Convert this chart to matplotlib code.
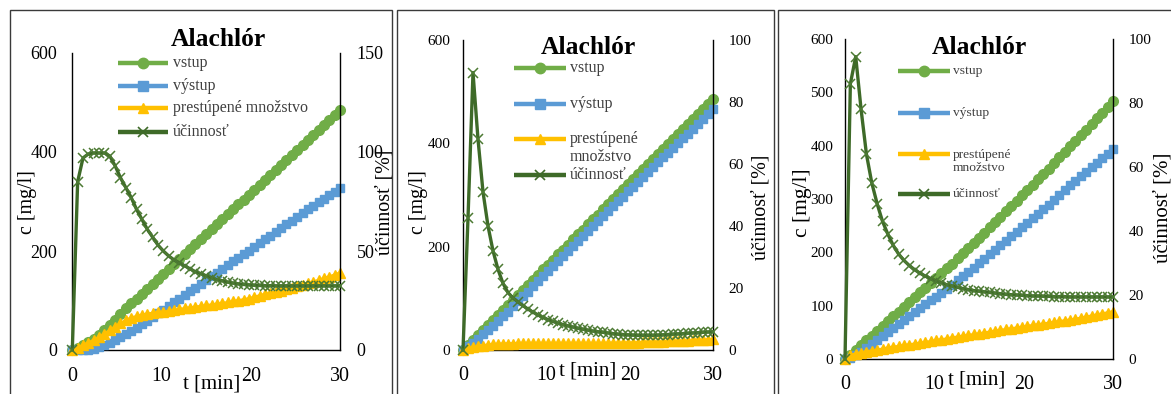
import matplotlib
matplotlib.use("Agg")
import matplotlib.pyplot as plt
from matplotlib.lines import Line2D
from matplotlib.patches import Rectangle
from matplotlib.transforms import Bbox, TransformedBbox

plt.rcParams['font.family'] = ['Liberation Serif', 'DejaVu Serif']

# time axis [min]
t = [0, 0.6, 1.2, 1.8, 2.4, 3.0, 3.6, 4.2, 4.8, 5.4, 6.0, 6.6, 7.2, 7.8, 8.4, 9.0, 9.6,
     10.2, 10.8, 11.4, 12.0, 12.6, 13.2, 13.8, 14.4, 15.0, 15.6, 16.2, 16.8, 17.4, 18.0,
     18.6, 19.2, 19.8, 20.4, 21.0, 21.6, 22.2, 22.8, 23.4, 24.0, 24.6, 25.2, 25.8, 26.4,
     27.0, 27.6, 28.2, 28.8, 29.4, 30.0]

labels = ['vstup', 'výstup', 'prestúpené množstvo', 'účinnosť']
title = 'Alachlór'

# panel 1
vstup_1 = [0, 5, 10, 16, 22, 30, 40, 50, 61, 72, 84, 94, 104, 114, 124, 134, 144, 154, 164,
           174, 184, 194, 204, 214, 224, 234, 244, 254, 264, 274, 284, 294, 304, 314, 324,
           334, 344, 354, 364, 374, 384, 394, 404, 414, 424, 434, 444, 454, 464, 474, 484]
vystup_1 = [0, 0, 0, 1, 3, 6, 10, 15, 20, 26, 32, 38, 45, 52, 59, 66, 74, 81, 89, 96, 104,
            111, 119, 126, 134, 141, 149, 156, 164, 171, 179, 186, 194, 201, 209, 216, 224,
            231, 239, 246, 254, 261, 269, 276, 284, 291, 299, 306, 313, 320, 327]
prest_1 = [0, 5, 10, 15, 20, 26, 33, 40, 47, 54, 60, 65, 68, 71, 73, 74.5, 76, 77, 78.5, 80,
           82, 84, 85.5, 87, 88.5, 90, 91.5, 93, 94.5, 96, 98, 100, 102, 104, 107, 110, 113,
           115, 118, 120, 123, 125.5, 129, 132, 135, 138, 141, 145, 148, 152, 156]
ucin_1 = [0, 85, 97, 99, 99.5, 99.5, 99.5, 98, 93, 87, 82, 77, 71, 66, 61, 57, 53, 50, 47.5,
          45.5, 44, 42.5, 41, 39.5, 38.5, 37.5, 36.5, 35.5, 35, 34.3, 33.8, 33.4, 33.1, 32.9,
          32.7, 32.6, 32.5, 32.5, 32.4, 32.4, 32.4, 32.4, 32.4, 32.4, 32.4, 32.4, 32.4, 32.4,
          32.4, 32.4, 32.5]

# panel 2
vstup_2 = [0, 10, 19, 29, 39, 49, 58, 68, 78, 87, 97, 107, 117, 126, 136, 146, 156, 165, 175,
           185, 194, 204, 214, 224, 233, 243, 253, 262, 272, 282, 292, 301, 311, 321, 330, 340,
           350, 360, 369, 379, 389, 398, 408, 418, 428, 437, 447, 457, 466, 476, 486]
vystup_2 = [0, 7, 14, 22, 30.5, 39, 47, 56.5, 66, 74.5, 84.5, 94, 104, 113, 123, 133, 143, 152,
            162, 172, 181, 191, 201, 211, 220, 230, 240, 249, 259, 268.5, 278.5, 287.5, 297,
            307, 316, 325.5, 335, 345, 353.5, 363.5, 373, 381.5, 391, 401, 410.5, 419, 428.5,
            438, 446.5, 456, 465.5]
prest_2 = [0, 3, 5, 7, 8.5, 10, 11, 11.5, 12, 12.5, 12.5, 13, 13, 13, 13, 13, 13, 13, 13, 13,
           13, 13, 13, 13, 13, 13, 13, 13, 13, 13.5, 13.5, 13.5, 14, 14, 14, 14.5, 15, 15, 15.5,
           15.5, 16, 16.5, 17, 17, 17.5, 18, 18.5, 19, 19.5, 20, 20.5]
ucin_2 = [0, 42.5, 89.5, 68, 51, 40, 32, 26, 21.5, 18.5, 16.8, 15.5, 14.3, 13.2, 12.2, 11.3,
          10.5, 9.8, 9.2, 8.7, 8.2, 7.8, 7.4, 7.0, 6.7, 6.4, 6.1, 5.9, 5.7, 5.5, 5.3, 5.1, 5.0,
          4.9, 4.8, 4.7, 4.7, 4.7, 4.7, 4.8, 4.9, 5.0, 5.1, 5.2, 5.3, 5.4, 5.5, 5.6, 5.7, 5.8, 5.9]

# panel 3
vstup_3 = [0, 8, 17, 26, 35, 44, 53, 62, 71, 80, 89, 98, 107, 116, 125, 134, 143, 152, 161, 170,
           179, 189, 198, 208, 217, 227, 237, 247, 257, 267, 277, 287, 297, 307, 317, 327, 337,
           347, 357, 368, 378, 388, 399, 409, 420, 430, 441, 451, 462, 472, 483]
vystup_3 = [0, 1, 7, 14, 21, 28.5, 36, 43, 50, 57.5, 65, 72.5, 80, 87.5, 95, 102.5, 110, 117,
            124.5, 132, 139, 147.5, 155, 163.5, 171, 179.5, 188, 196, 204.5, 213, 221.5, 230,
            238.5, 247, 255.5, 264, 272.5, 281, 289.5, 299, 307.5, 316, 325.5, 334, 343, 351,
            360, 368, 377, 385, 394]
prest_3 = [0, 7, 10, 12, 14, 15.5, 17, 19, 21, 22.5, 24, 25.5, 27, 28.5, 30, 31.5, 33, 35, 36.5,
           38, 40, 41.5, 43, 44.5, 46, 47.5, 49, 51, 52.5, 54, 55.5, 57, 58.5, 60, 61.5, 63,
           64.5, 66, 67.5, 69, 70.5, 72, 73.5, 75, 77, 79, 81, 83, 85, 87, 89]
ucin_3 = [0, 86, 94.5, 78, 64, 55, 48.5, 43, 39, 35.5, 32.8, 30.8, 29.2, 27.9, 26.8, 25.9, 25.1,
          24.4, 23.8, 23.2, 22.8, 22.4, 22.0, 21.7, 21.4, 21.2, 21.0, 20.8, 20.6, 20.4, 20.2,
          20.1, 20.0, 19.9, 19.8, 19.7, 19.7, 19.6, 19.6, 19.5, 19.5, 19.5, 19.4, 19.4, 19.4,
          19.4, 19.4, 19.4, 19.4, 19.4, 19.4]

panels_data = [(vstup_1, vystup_1, prest_1, ucin_1),
               (vstup_2, vystup_2, prest_2, ucin_2),
               (vstup_3, vystup_3, prest_3, ucin_3)]

# styles
colors = ['#70AD47', '#5B9BD5', '#FFC000', '#3E6A28']
markers = ['o', 's', '^', 'x']
msizes = [7.0, 6.2, 7.0, 6.5]

# layout in pixels (x0, y0 top, x1, y1 bottom)
W, H = 1171, 394
layout = [
    dict(plot=(72.3, 53, 340, 350), border=(10, 10, 392, 404), rmax=150,
         lticks=[0, 200, 400, 600], rticks=[0, 50, 100, 150], lsize=13, rsize=13,
         lpad=11, rpad=12, xpad=12, title=(218, 39), ylab=(28, 202, 14.4),
         rlab=(385, 202, 14.4), xlab=(212, 384, 15), leg=(118, 168, 173),
         leg_y=[63, 86, 108, 132], leg_fs=11.5, wrap=0),
    dict(plot=(463, 40, 713, 350), border=(397, 10, 774, 404), rmax=100,
         lticks=[0, 200, 400, 600], rticks=[0, 20, 40, 60, 80, 100], lsize=11, rsize=11,
         lpad=9, rpad=11, xpad=11.5, title=(588, 47), ylab=(418, 202, 14.4),
         rlab=(761, 207, 14.4), xlab=(588, 371, 15), leg=(514, 566, 570),
         leg_y=[68, 104, 139, 175], leg_fs=11.5, wrap=18),
    dict(plot=(845, 39, 1113, 359), border=(778, 10, 1180, 404), rmax=100,
         lticks=[0, 100, 200, 300, 400, 500, 600], rticks=[0, 20, 40, 60, 80, 100],
         lsize=11, rsize=11, lpad=8.5, rpad=11, xpad=11.5, title=(979, 47),
         ylab=(802, 203, 15.5), rlab=(1163, 208, 15), xlab=(977, 380, 15),
         leg=(898, 950, 953), leg_y=[71, 113, 154, 194], leg_fs=9.7, wrap=15),
]


def fx(x):
    return x / W


def fy(y):
    return 1 - y / H


fig = plt.figure(figsize=(W / 100, H / 100), dpi=100)

for data, L in zip(panels_data, layout):
    x0, y0, x1, y1 = L['plot']
    ax = fig.add_axes([fx(x0), fy(y1), (x1 - x0) / W, (y1 - y0) / H])
    ax2 = ax.twinx()
    ax2.set_zorder(ax.get_zorder() + 1)

    for i in range(3):
        ax.plot(t, data[i], color=colors[i], lw=2, marker=markers[i], ms=msizes[i],
                mec=colors[i], mfc=colors[i], zorder=3, clip_on=False)
    ax2.plot(t, data[3], color=colors[3], lw=2.4, marker='x', ms=msizes[3], mew=1.1,
             mec='#4C7A33', zorder=3, clip_on=False)

    ax.set_xlim(0, 30)
    ax.set_ylim(0, 600)
    ax2.set_ylim(0, L['rmax'])
    ax.set_xticks([0, 10, 20, 30])
    ax.set_yticks(L['lticks'])
    ax2.set_yticks(L['rticks'])
    ax.tick_params(axis='x', length=0, labelsize=14.4, pad=L['xpad'])
    ax.tick_params(axis='y', length=0, labelsize=L['lsize'], pad=L['lpad'])
    ax2.tick_params(axis='y', length=0, labelsize=L['rsize'], pad=L['rpad'])

    for s in ['top', 'right']:
        ax.spines[s].set_visible(False)
    for s in ['top', 'left', 'bottom']:
        ax2.spines[s].set_visible(False)
    for sp in [ax.spines['left'], ax.spines['bottom'], ax2.spines['right']]:
        sp.set_color('black')
        sp.set_linewidth(1)
        sp.set_zorder(1)

    # panel frame
    bx0, by0, bx1, by1 = L['border']
    fig.add_artist(Rectangle((fx(bx0), fy(by1)), (bx1 - bx0) / W, (by1 - by0) / H,
                             transform=fig.transFigure, fill=False, ec='#3a3a3a', lw=1))
    clip = TransformedBbox(Bbox.from_extents(fx(bx0), fy(by1), fx(bx1), fy(by0)),
                           fig.transFigure)

    fig.text(fx(L['title'][0]), fy(L['title'][1]), title, ha='center', va='center',
             fontsize=18.4, fontweight='bold')
    fig.text(fx(L['ylab'][0]), fy(L['ylab'][1]), 'c [mg/l]', rotation=90, ha='center',
             va='center', fontsize=L['ylab'][2])
    rl = fig.text(fx(L['rlab'][0]), fy(L['rlab'][1]), 'účinnosť [%]', rotation=90,
                  ha='center', va='center', fontsize=L['rlab'][2])
    rl.set_clip_box(clip)
    rl.set_clip_on(True)
    fig.text(fx(L['xlab'][0]), fy(L['xlab'][1]), 't [min]', ha='center', va='center',
             fontsize=L['xlab'][2])

    # legend drawn by hand to follow the original spacing
    lx0, lx1, tx = L['leg']
    for i, lab in enumerate(labels):
        yy = L['leg_y'][i]
        fig.add_artist(Line2D([fx(lx0), fx(lx1)], [fy(yy), fy(yy)], transform=fig.transFigure,
                              color=colors[i], lw=3.2, solid_capstyle='butt'))
        fig.add_artist(Line2D([fx((lx0 + lx1) / 2)], [fy(yy)], transform=fig.transFigure,
                              marker=markers[i], ms=msizes[i] + 0.5, color=colors[i],
                              mew=1.2 if i == 3 else 1, ls='none'))
        if i == 2 and L['wrap']:
            fig.text(fx(tx), fy(yy + L['wrap'] / 2), lab.replace(' ', '\n'), ha='left',
                     va='center', fontsize=L['leg_fs'], color='#404040', linespacing=1.1)
        else:
            fig.text(fx(tx), fy(yy), lab, ha='left', va='center', fontsize=L['leg_fs'],
                     color='#404040')

fig.savefig('out.png', dpi=100)
